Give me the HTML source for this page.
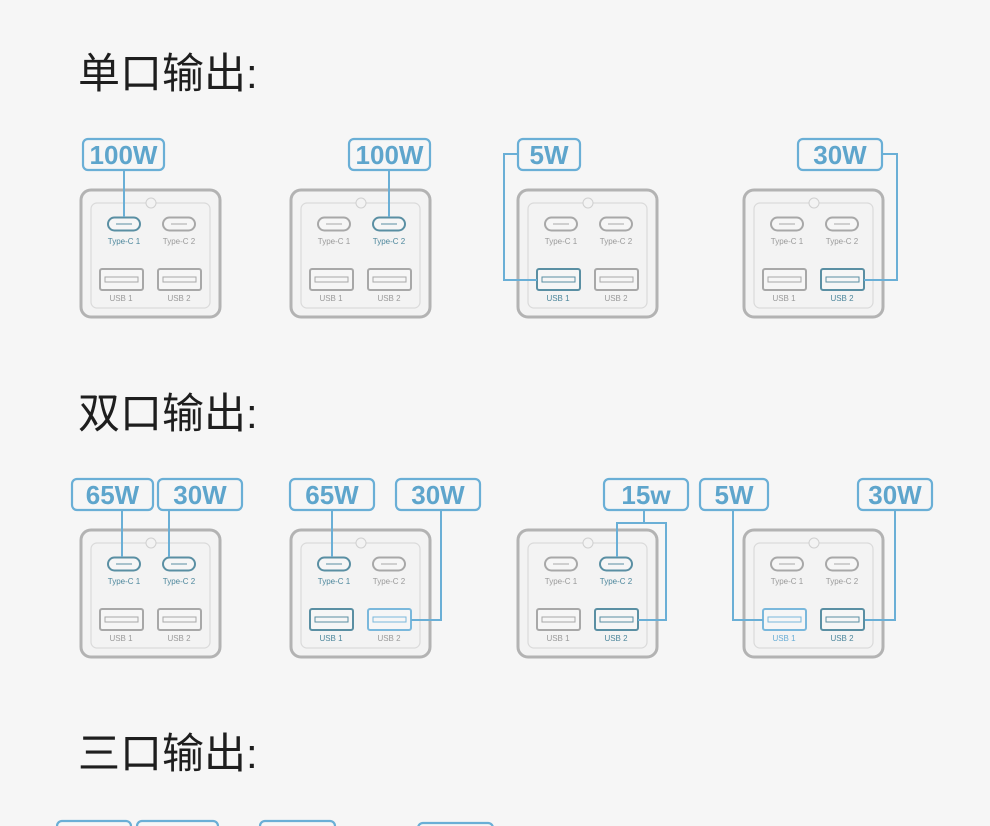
<!DOCTYPE html>
<html><head><meta charset="utf-8"><style>
html,body{margin:0;padding:0;background:#f6f6f6;}
svg{display:block;}
.h{font-family:"Liberation Sans","Noto Sans CJK SC",sans-serif;font-size:42px;fill:#1e1e1e;}
.w{font-family:"Liberation Sans","DejaVu Sans",sans-serif;font-size:26px;fill:#5ea5cc;font-weight:bold;text-anchor:middle;}
.lb{fill:none;stroke:#6aafd6;stroke-width:2.2;}
.ln{fill:none;stroke:#6aafd6;stroke-width:2;}
.o{fill:#f3f3f3;stroke:#b3b3b3;stroke-width:3;}
.i{fill:none;stroke:#dadada;stroke-width:1.2;}
.t{font-family:"Liberation Sans",sans-serif;font-size:8px;text-anchor:middle;}
.g{stroke:#a8a8a8;fill:#f6f6f6;stroke-width:2;} .gt{fill:#9a9a9a;}
.d{stroke:#5a8fa3;fill:#f6f6f6;stroke-width:2;} .dt{fill:#4d879c;}
.l{stroke:#7ab8dc;fill:#f6f6f6;stroke-width:2;} .lt{fill:#6aaed6;}
.in{fill:none;stroke-width:1;}
</style></head><body>
<svg width="990" height="826" viewBox="0 0 990 826" xmlns="http://www.w3.org/2000/svg">
<defs></defs>
<text class="h" x="78" y="88">单口输出:</text>
<text class="h" x="78" y="428">双口输出:</text>
<text class="h" x="78" y="768">三口输出:</text>

<!-- charger template replicated -->
<!-- Row 1 -->
<g transform="translate(81,190)">
<rect class="o" x="0" y="0" width="139" height="127" rx="10"/><rect class="i" x="10" y="13" width="119" height="105" rx="6"/><circle cx="70" cy="13" r="5" fill="#f3f3f3" stroke="#d0d0d0"/>
<rect class="d" x="27" y="27.5" width="32" height="13" rx="6.5"/><line x1="35" y1="34" x2="51" y2="34" stroke="#5a8fa3"/><text class="t dt" x="43" y="54">Type-C 1</text>
<rect class="g" x="82" y="27.5" width="32" height="13" rx="6.5"/><line x1="90" y1="34" x2="106" y2="34" stroke="#a8a8a8"/><text class="t gt" x="98" y="54">Type-C 2</text>
<rect class="g" x="19" y="79" width="43" height="21" rx="2"/><rect class="in" x="24" y="87" width="33" height="5" stroke="#a8a8a8"/><text class="t gt" x="40" y="111">USB 1</text>
<rect class="g" x="77" y="79" width="43" height="21" rx="2"/><rect class="in" x="82" y="87" width="33" height="5" stroke="#a8a8a8"/><text class="t gt" x="98" y="111">USB 2</text>
</g>
<g transform="translate(291,190)">
<rect class="o" x="0" y="0" width="139" height="127" rx="10"/><rect class="i" x="10" y="13" width="119" height="105" rx="6"/><circle cx="70" cy="13" r="5" fill="#f3f3f3" stroke="#d0d0d0"/>
<rect class="g" x="27" y="27.5" width="32" height="13" rx="6.5"/><line x1="35" y1="34" x2="51" y2="34" stroke="#a8a8a8"/><text class="t gt" x="43" y="54">Type-C 1</text>
<rect class="d" x="82" y="27.5" width="32" height="13" rx="6.5"/><line x1="90" y1="34" x2="106" y2="34" stroke="#5a8fa3"/><text class="t dt" x="98" y="54">Type-C 2</text>
<rect class="g" x="19" y="79" width="43" height="21" rx="2"/><rect class="in" x="24" y="87" width="33" height="5" stroke="#a8a8a8"/><text class="t gt" x="40" y="111">USB 1</text>
<rect class="g" x="77" y="79" width="43" height="21" rx="2"/><rect class="in" x="82" y="87" width="33" height="5" stroke="#a8a8a8"/><text class="t gt" x="98" y="111">USB 2</text>
</g>
<g transform="translate(518,190)">
<rect class="o" x="0" y="0" width="139" height="127" rx="10"/><rect class="i" x="10" y="13" width="119" height="105" rx="6"/><circle cx="70" cy="13" r="5" fill="#f3f3f3" stroke="#d0d0d0"/>
<rect class="g" x="27" y="27.5" width="32" height="13" rx="6.5"/><line x1="35" y1="34" x2="51" y2="34" stroke="#a8a8a8"/><text class="t gt" x="43" y="54">Type-C 1</text>
<rect class="g" x="82" y="27.5" width="32" height="13" rx="6.5"/><line x1="90" y1="34" x2="106" y2="34" stroke="#a8a8a8"/><text class="t gt" x="98" y="54">Type-C 2</text>
<rect class="d" x="19" y="79" width="43" height="21" rx="2"/><rect class="in" x="24" y="87" width="33" height="5" stroke="#5a8fa3"/><text class="t dt" x="40" y="111">USB 1</text>
<rect class="g" x="77" y="79" width="43" height="21" rx="2"/><rect class="in" x="82" y="87" width="33" height="5" stroke="#a8a8a8"/><text class="t gt" x="98" y="111">USB 2</text>
</g>
<g transform="translate(744,190)">
<rect class="o" x="0" y="0" width="139" height="127" rx="10"/><rect class="i" x="10" y="13" width="119" height="105" rx="6"/><circle cx="70" cy="13" r="5" fill="#f3f3f3" stroke="#d0d0d0"/>
<rect class="g" x="27" y="27.5" width="32" height="13" rx="6.5"/><line x1="35" y1="34" x2="51" y2="34" stroke="#a8a8a8"/><text class="t gt" x="43" y="54">Type-C 1</text>
<rect class="g" x="82" y="27.5" width="32" height="13" rx="6.5"/><line x1="90" y1="34" x2="106" y2="34" stroke="#a8a8a8"/><text class="t gt" x="98" y="54">Type-C 2</text>
<rect class="g" x="19" y="79" width="43" height="21" rx="2"/><rect class="in" x="24" y="87" width="33" height="5" stroke="#a8a8a8"/><text class="t gt" x="40" y="111">USB 1</text>
<rect class="d" x="77" y="79" width="43" height="21" rx="2"/><rect class="in" x="82" y="87" width="33" height="5" stroke="#5a8fa3"/><text class="t dt" x="98" y="111">USB 2</text>
</g>

<!-- Row 1 labels -->
<rect class="lb" x="83" y="139" width="81" height="31" rx="5"/><text class="w" x="123.5" y="164">100W</text>
<line class="ln" x1="124" y1="170" x2="124" y2="217"/>
<rect class="lb" x="349" y="139" width="81" height="31" rx="5"/><text class="w" x="389.5" y="164">100W</text>
<line class="ln" x1="389" y1="170" x2="389" y2="217"/>
<rect class="lb" x="518" y="139" width="62" height="31" rx="5"/><text class="w" x="549" y="164">5W</text>
<polyline class="ln" points="518,154 504,154 504,280 537,280"/>
<rect class="lb" x="798" y="139" width="84" height="31" rx="5"/><text class="w" x="840" y="164">30W</text>
<polyline class="ln" points="882,154 897,154 897,280 864,280"/>

<!-- Row 2 -->
<g transform="translate(81,530)">
<rect class="o" x="0" y="0" width="139" height="127" rx="10"/><rect class="i" x="10" y="13" width="119" height="105" rx="6"/><circle cx="70" cy="13" r="5" fill="#f3f3f3" stroke="#d0d0d0"/>
<rect class="d" x="27" y="27.5" width="32" height="13" rx="6.5"/><line x1="35" y1="34" x2="51" y2="34" stroke="#5a8fa3"/><text class="t dt" x="43" y="54">Type-C 1</text>
<rect class="d" x="82" y="27.5" width="32" height="13" rx="6.5"/><line x1="90" y1="34" x2="106" y2="34" stroke="#5a8fa3"/><text class="t dt" x="98" y="54">Type-C 2</text>
<rect class="g" x="19" y="79" width="43" height="21" rx="2"/><rect class="in" x="24" y="87" width="33" height="5" stroke="#a8a8a8"/><text class="t gt" x="40" y="111">USB 1</text>
<rect class="g" x="77" y="79" width="43" height="21" rx="2"/><rect class="in" x="82" y="87" width="33" height="5" stroke="#a8a8a8"/><text class="t gt" x="98" y="111">USB 2</text>
</g>
<g transform="translate(291,530)">
<rect class="o" x="0" y="0" width="139" height="127" rx="10"/><rect class="i" x="10" y="13" width="119" height="105" rx="6"/><circle cx="70" cy="13" r="5" fill="#f3f3f3" stroke="#d0d0d0"/>
<rect class="d" x="27" y="27.5" width="32" height="13" rx="6.5"/><line x1="35" y1="34" x2="51" y2="34" stroke="#5a8fa3"/><text class="t dt" x="43" y="54">Type-C 1</text>
<rect class="g" x="82" y="27.5" width="32" height="13" rx="6.5"/><line x1="90" y1="34" x2="106" y2="34" stroke="#a8a8a8"/><text class="t gt" x="98" y="54">Type-C 2</text>
<rect class="d" x="19" y="79" width="43" height="21" rx="2"/><rect class="in" x="24" y="87" width="33" height="5" stroke="#5a8fa3"/><text class="t dt" x="40" y="111">USB 1</text>
<rect class="l" x="77" y="79" width="43" height="21" rx="2"/><rect class="in" x="82" y="87" width="33" height="5" stroke="#7ab8dc"/><text class="t gt" x="98" y="111">USB 2</text>
</g>
<g transform="translate(518,530)">
<rect class="o" x="0" y="0" width="139" height="127" rx="10"/><rect class="i" x="10" y="13" width="119" height="105" rx="6"/><circle cx="70" cy="13" r="5" fill="#f3f3f3" stroke="#d0d0d0"/>
<rect class="g" x="27" y="27.5" width="32" height="13" rx="6.5"/><line x1="35" y1="34" x2="51" y2="34" stroke="#a8a8a8"/><text class="t gt" x="43" y="54">Type-C 1</text>
<rect class="d" x="82" y="27.5" width="32" height="13" rx="6.5"/><line x1="90" y1="34" x2="106" y2="34" stroke="#5a8fa3"/><text class="t dt" x="98" y="54">Type-C 2</text>
<rect class="g" x="19" y="79" width="43" height="21" rx="2"/><rect class="in" x="24" y="87" width="33" height="5" stroke="#a8a8a8"/><text class="t gt" x="40" y="111">USB 1</text>
<rect class="d" x="77" y="79" width="43" height="21" rx="2"/><rect class="in" x="82" y="87" width="33" height="5" stroke="#5a8fa3"/><text class="t dt" x="98" y="111">USB 2</text>
</g>
<g transform="translate(744,530)">
<rect class="o" x="0" y="0" width="139" height="127" rx="10"/><rect class="i" x="10" y="13" width="119" height="105" rx="6"/><circle cx="70" cy="13" r="5" fill="#f3f3f3" stroke="#d0d0d0"/>
<rect class="g" x="27" y="27.5" width="32" height="13" rx="6.5"/><line x1="35" y1="34" x2="51" y2="34" stroke="#a8a8a8"/><text class="t gt" x="43" y="54">Type-C 1</text>
<rect class="g" x="82" y="27.5" width="32" height="13" rx="6.5"/><line x1="90" y1="34" x2="106" y2="34" stroke="#a8a8a8"/><text class="t gt" x="98" y="54">Type-C 2</text>
<rect class="l" x="19" y="79" width="43" height="21" rx="2"/><rect class="in" x="24" y="87" width="33" height="5" stroke="#7ab8dc"/><text class="t lt" x="40" y="111">USB 1</text>
<rect class="d" x="77" y="79" width="43" height="21" rx="2"/><rect class="in" x="82" y="87" width="33" height="5" stroke="#5a8fa3"/><text class="t dt" x="98" y="111">USB 2</text>
</g>

<!-- Row 2 labels -->
<rect class="lb" x="72" y="479" width="81" height="31" rx="5"/><text class="w" x="112.5" y="504">65W</text>
<line class="ln" x1="122" y1="510" x2="122" y2="557"/>
<rect class="lb" x="158" y="479" width="84" height="31" rx="5"/><text class="w" x="200" y="504">30W</text>
<line class="ln" x1="169" y1="510" x2="169" y2="557"/>
<rect class="lb" x="290" y="479" width="84" height="31" rx="5"/><text class="w" x="332" y="504">65W</text>
<line class="ln" x1="332" y1="510" x2="332" y2="557"/>
<rect class="lb" x="396" y="479" width="84" height="31" rx="5"/><text class="w" x="438" y="504">30W</text>
<polyline class="ln" points="441,510 441,620 411,620"/>
<rect class="lb" x="604" y="479" width="84" height="31" rx="5"/><text class="w" x="646" y="504">15w</text>
<polyline class="ln" points="644,510 644,523 617,523 617,557"/>
<polyline class="ln" points="644,523 666,523 666,620 638,620"/>
<rect class="lb" x="700" y="479" width="68" height="31" rx="5"/><text class="w" x="734" y="504">5W</text>
<polyline class="ln" points="733,510 733,620 763,620"/>
<rect class="lb" x="858" y="479" width="74" height="31" rx="5"/><text class="w" x="895" y="504">30W</text>
<polyline class="ln" points="895,510 895,620 865,620"/>

<!-- Row 3 partial labels -->
<rect class="lb" x="57" y="821" width="74" height="20" rx="5"/>
<rect class="lb" x="137" y="821" width="81" height="20" rx="5"/>
<rect class="lb" x="260" y="821" width="75" height="20" rx="5"/>
<rect class="lb" x="418" y="823" width="75" height="20" rx="5"/>
</svg>
</body></html>
